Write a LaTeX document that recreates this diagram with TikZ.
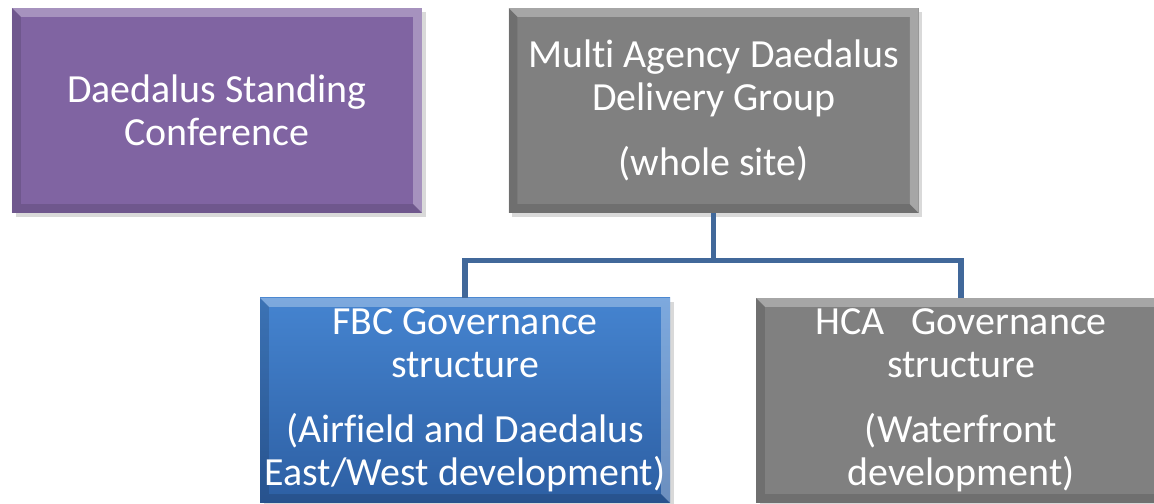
\documentclass[tikz,border=0pt]{standalone}
\usepackage{fontspec}
\setmainfont{Carlito}[Ligatures={NoCommon}]
\usepackage{xcolor}
\usetikzlibrary{positioning, calc, shadows}
\definecolor{DSCPurple}{HTML}{8064A2}
\definecolor{MADGray}{HTML}{808080}
\definecolor{FBCTop}{HTML}{4584D0}
\definecolor{FBCBottom}{HTML}{2D5FA3}
\definecolor{LinkBlue}{HTML}{41689A}
\tikzset{
    govbox/.style={rectangle, minimum width=8.2cm, minimum height=4.1cm, inner sep=0pt,
        text centered, align=center, text=white, font=\fontsize{22.7}{24.4}\selectfont,
        drop shadow={opacity=0.3, shadow xshift=2pt, shadow yshift=-2pt},
        path picture={
            \coordinate (nw) at (path picture bounding box.north west);
            \coordinate (se) at (path picture bounding box.south east);
            \fill[white, opacity=0.3] (nw) -| (se) -- ++(-5pt,5pt) |- ($(nw)+(5pt,-5pt)$) -- cycle;
            \fill[black, opacity=0.13] (se) -| (nw) -- ++(5pt,-5pt) |- ($(se)+(-5pt,5pt)$) -- cycle;
        }},
    govlink/.style={line width=3pt, LinkBlue},
}
\begin{document}
\begin{tikzpicture}
    \useasboundingbox (0,0) rectangle (23.08,10.08);

    \node[govbox, fill=DSCPurple] (dsc) at (4.34,7.87) {Daedalus Standing\\Conference};
    \node[govbox, fill=MADGray, right=1.72cm of dsc] (madg) {Multi Agency Daedalus\\Delivery Group\\[12.5pt](whole site)};

    \node[govbox, top color=FBCTop, bottom color=FBCBottom] (fbc) at (9.3,2.07) {FBC Governance\\structure\\[12.5pt](Airfield and Daedalus\\East/West development)};
    \node[govbox, fill=MADGray] (hca) at (19.22,2.07) {HCA\ \ \ Governance\\structure\\[12.5pt](Waterfront\\development)};

    % links
    \coordinate[below=0.94cm of madg.south] (split);
    \draw[govlink] (madg.south) -- (split) -| (fbc.north);
    \draw[govlink] (split) -| (hca.north);
\end{tikzpicture}
\end{document}
